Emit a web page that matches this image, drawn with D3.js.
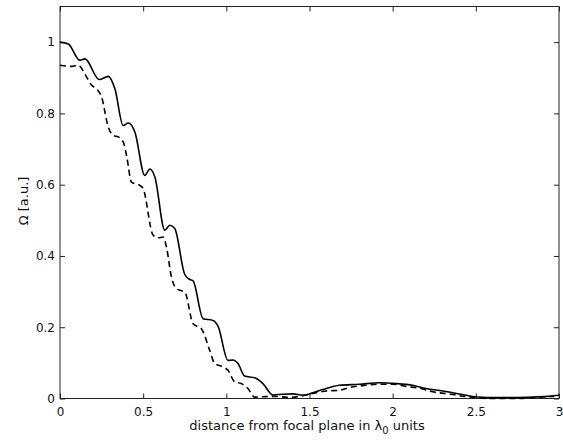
<!DOCTYPE html>
<html>
<head>
<meta charset="utf-8">
<script src="https://cdn.jsdelivr.net/npm/d3@7"></script>
<style>
  body { margin: 0; background: #fff; }
  text { font-family: "DejaVu Sans", sans-serif; font-size: 13px; fill: #111; }
</style>
</head>
<body>
<script>
// solid curve
let solidX = [0, 0.05, 0.12, 0.15, 0.236, 0.29, 0.33, 0.38, 0.41, 0.45, 0.51, 0.54, 0.57, 0.63, 0.66, 0.69,
  0.75, 0.78, 0.80, 0.86, 0.92, 0.95, 1.01, 1.04, 1.07, 1.11, 1.17, 1.22, 1.28, 1.34, 1.40, 1.46, 1.52,
  1.58, 1.68, 1.80, 1.92, 2.02, 2.12, 2.20, 2.30, 2.41, 2.51, 2.57, 2.75, 2.84, 2.93, 3.0];
let solidY = [1.0, 0.995, 0.949, 0.953, 0.895, 0.904, 0.869, 0.766, 0.773, 0.748, 0.626, 0.644, 0.622, 0.472, 0.486, 0.477,
  0.348, 0.334, 0.330, 0.224, 0.219, 0.203, 0.107, 0.108, 0.098, 0.063, 0.058, 0.042, 0.010, 0.012, 0.013, 0.009, 0.016,
  0.025, 0.037, 0.040, 0.044, 0.042, 0.037, 0.028, 0.021, 0.012, 0.004, 0.003, 0.003, 0.004, 0.006, 0.009];

// dashed curve
let dashX = [0, 0.07, 0.11, 0.16, 0.19, 0.22, 0.25, 0.29, 0.32, 0.35, 0.38, 0.40, 0.43, 0.48, 0.50, 0.56, 0.59,
  0.62, 0.64, 0.67, 0.70, 0.72, 0.75, 0.80, 0.85, 0.90, 0.93, 0.98, 1.01, 1.05, 1.09, 1.13, 1.17, 1.22, 1.29,
  1.38, 1.44, 1.50, 1.60, 1.68, 1.74, 1.84, 1.92, 2.00, 2.08, 2.17, 2.24, 2.35, 2.43, 2.49, 2.57, 2.75, 2.89, 2.97];
let dashY = [0.935, 0.932, 0.935, 0.902, 0.879, 0.869, 0.846, 0.762, 0.738, 0.734, 0.72, 0.682, 0.607, 0.598, 0.589, 0.458, 0.451,
  0.453, 0.425, 0.341, 0.308, 0.304, 0.299, 0.21, 0.196, 0.135, 0.098, 0.089, 0.079, 0.047, 0.042, 0.028, 0.004, 0.005, 0.006,
  0.003, 0.006, 0.012, 0.021, 0.023, 0.031, 0.037, 0.040, 0.040, 0.034, 0.028, 0.019, 0.012, 0.006, 0.003, 0.0, 0.0, 0.004, 0.006];

let xTicks = [0, 0.5, 1, 1.5, 2, 2.5, 3];
let yTicks = [0, 0.2, 0.4, 0.6, 0.8, 1];

let svg = d3.select('body').append('svg')
  .attr('width', 563)
  .attr('height', 443);

let x = d3.scaleLinear().domain([0, 3]).range([60, 559]);
let y = d3.scaleLinear().domain([0, 1.1]).range([398.5, 6.5]);

// box
svg.append('rect')
  .attr('x', x(0)).attr('y', y(1.1))
  .attr('width', x(3) - x(0)).attr('height', y(0) - y(1.1))
  .attr('fill', 'none').attr('stroke', '#222').attr('stroke-width', 1);

// ticks inside, all four sides (matlab style)
let tickLen = 5;
svg.append('g').attr('transform', 'translate(0,' + y(0) + ')')
  .call(d3.axisBottom(x).tickValues(xTicks).tickSize(-tickLen).tickPadding(9).tickFormat(d3.format('')))
  .call(g => g.select('.domain').remove());
svg.append('g').attr('transform', 'translate(0,' + y(1.1) + ')')
  .call(d3.axisTop(x).tickValues(xTicks).tickSize(-tickLen).tickFormat(''))
  .call(g => g.select('.domain').remove());
svg.append('g').attr('transform', 'translate(' + x(0) + ',0)')
  .call(d3.axisLeft(y).tickValues(yTicks).tickSize(-tickLen).tickPadding(5).tickFormat(d3.format('')))
  .call(g => g.select('.domain').remove());
svg.append('g').attr('transform', 'translate(' + x(3) + ',0)')
  .call(d3.axisRight(y).tickValues(yTicks).tickSize(-tickLen).tickFormat(''))
  .call(g => g.select('.domain').remove());

svg.selectAll('.tick line').attr('stroke', '#222');
svg.selectAll('.tick text')
  .style('font-family', '"DejaVu Sans", sans-serif')
  .style('font-size', '12px').attr('fill', '#111');

let line = d3.line()
  .x(d => x(d[0]))
  .y(d => y(d[1]))
  .curve(d3.curveMonotoneX);

svg.append('path')
  .attr('fill', 'none').attr('stroke', '#000').attr('stroke-width', 1.6)
  .attr('d', line(d3.zip(solidX, solidY)));

svg.append('path')
  .attr('fill', 'none').attr('stroke', '#000').attr('stroke-width', 1.6)
  .attr('stroke-dasharray', '6,4')
  .attr('d', line(d3.zip(dashX, dashY)));

// axis labels
let xl = svg.append('text')
  .attr('x', 307).attr('y', 430)
  .attr('text-anchor', 'middle');
xl.append('tspan').text('distance from focal plane in λ');
xl.append('tspan').attr('dy', 4).style('font-size', '10px').text('0');
xl.append('tspan').attr('dy', -4).text(' units');

svg.append('text')
  .attr('transform', 'translate(28,201) rotate(-90)')
  .attr('text-anchor', 'middle')
  .text('Ω [a.u.]');
</script>
</body>
</html>
